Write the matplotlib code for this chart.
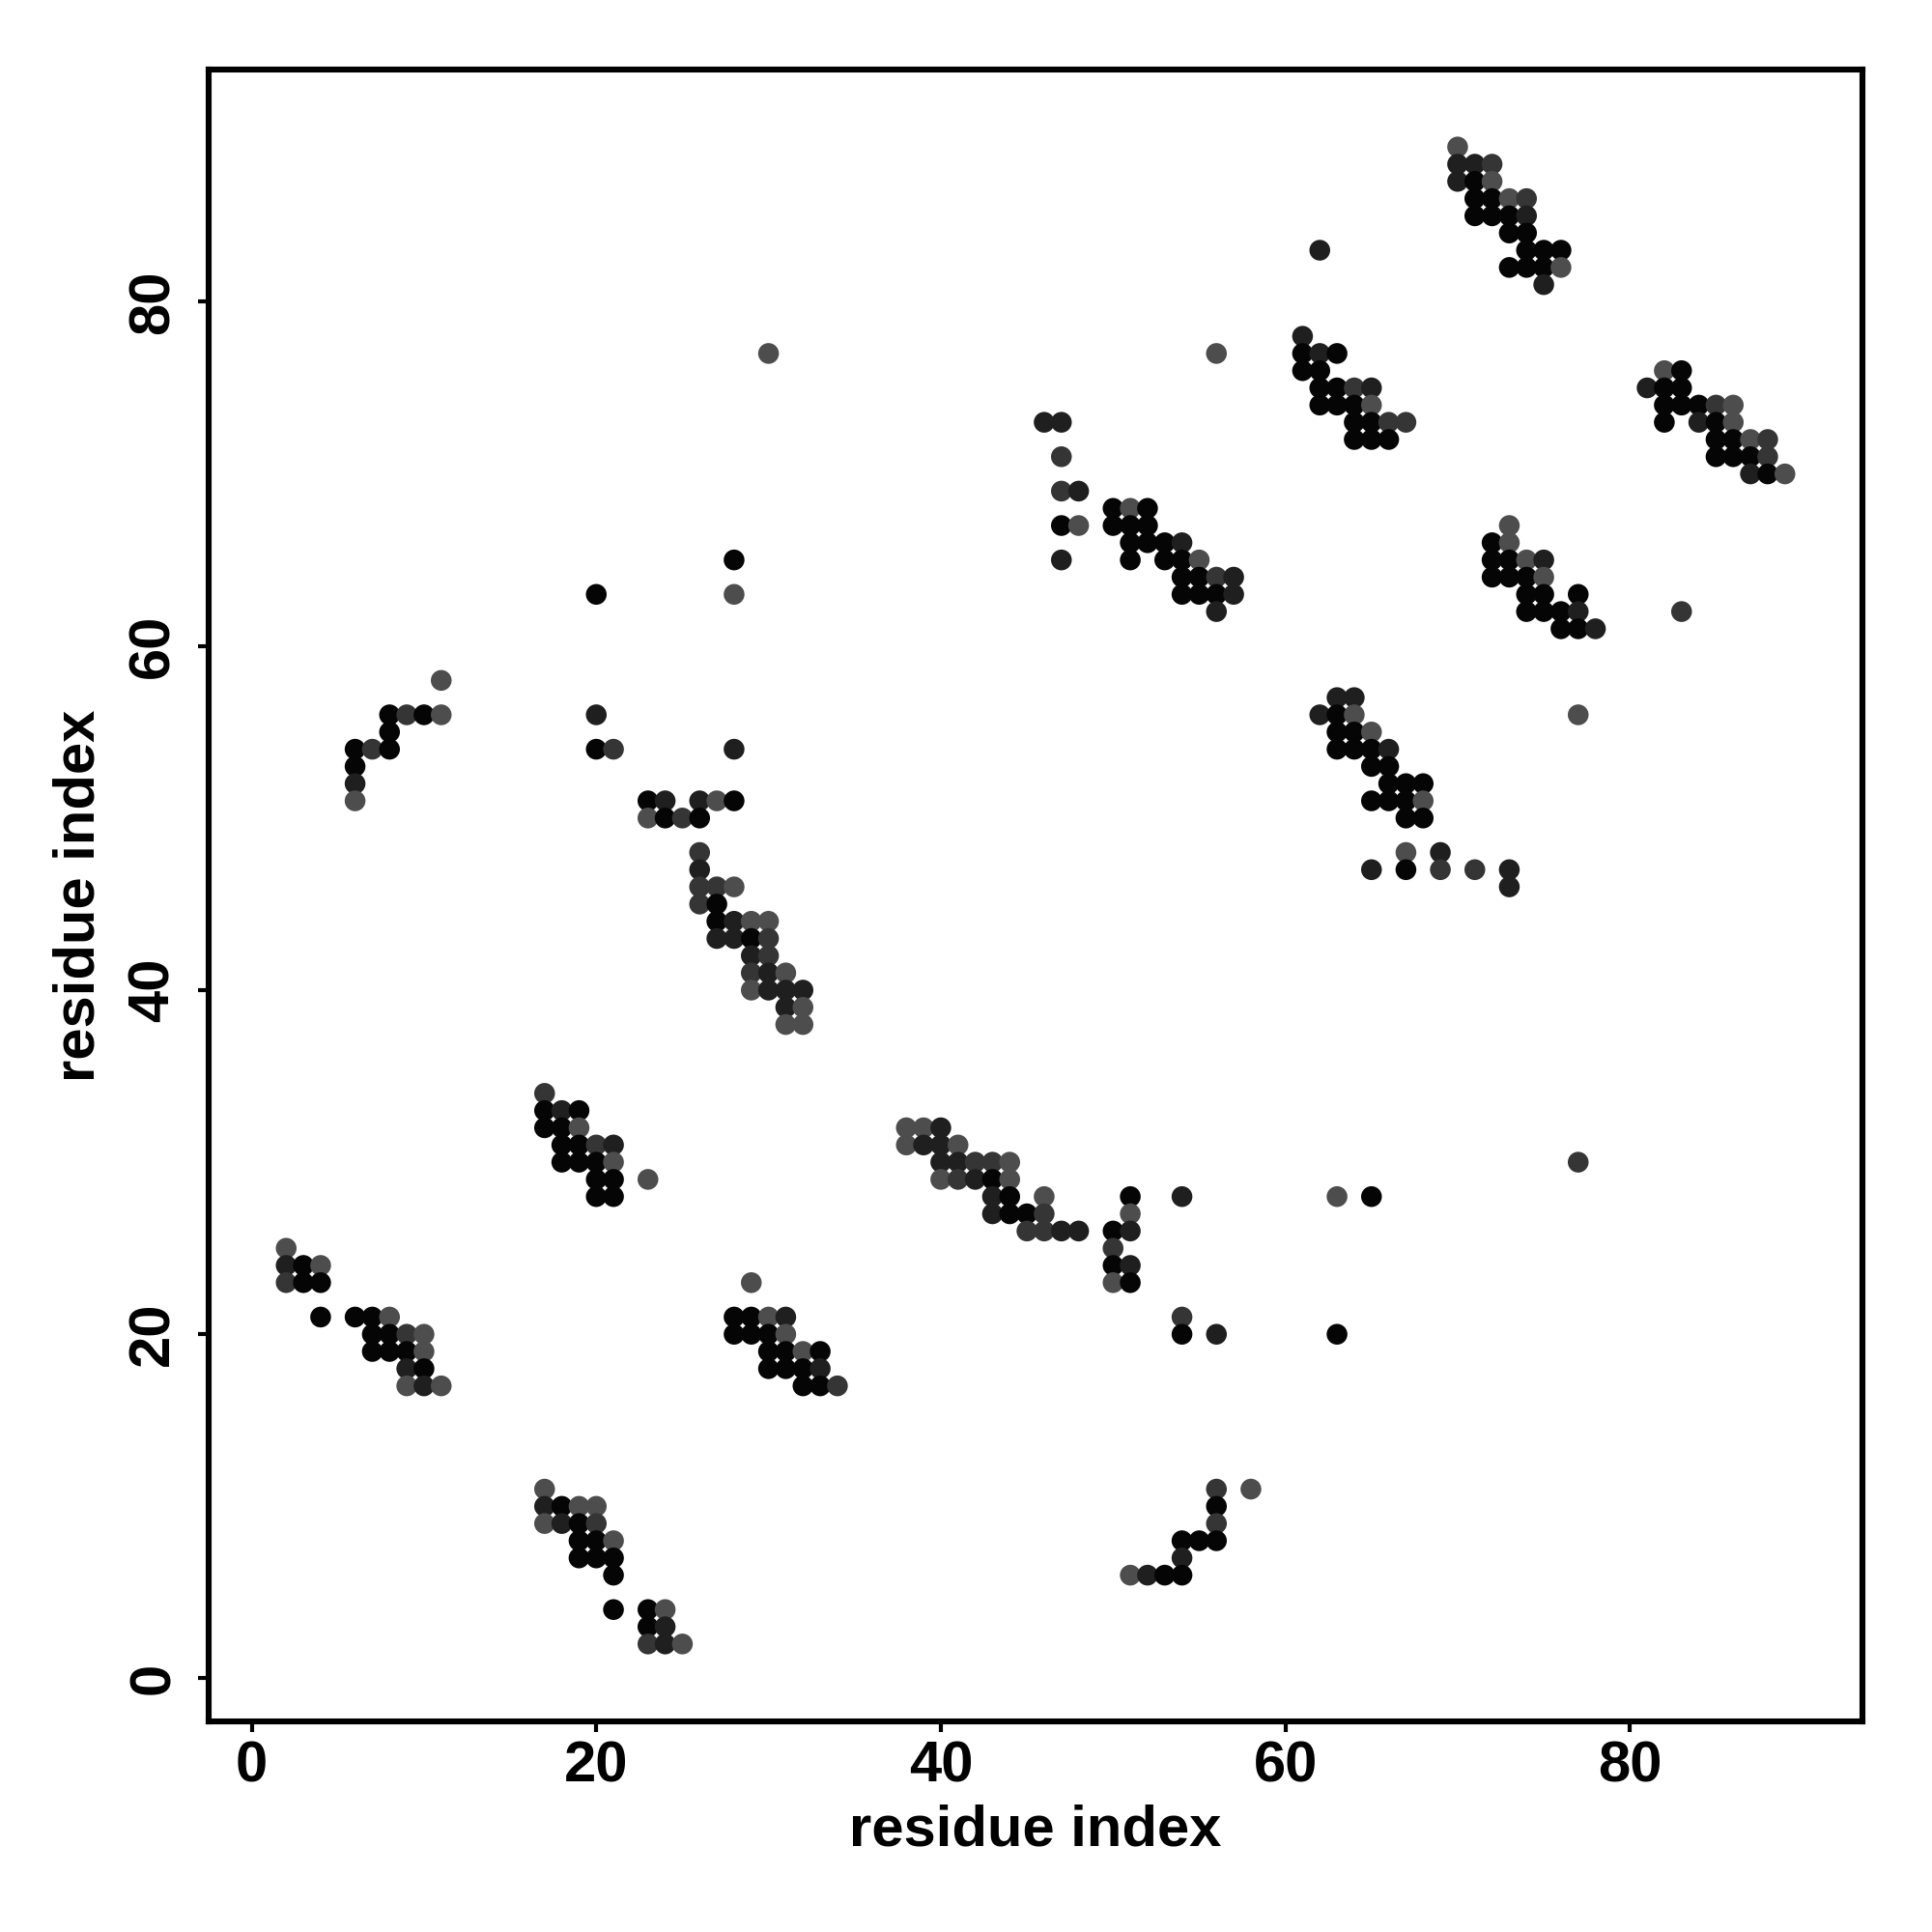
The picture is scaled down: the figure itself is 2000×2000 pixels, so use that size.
import matplotlib.pyplot as plt

plt.rcParams['font.family'] = ['Liberation Sans', 'DejaVu Sans']
plt.rcParams['font.weight'] = 'bold'

# contacts as (residue i, residue j, shade level 0=black .. 3=grey)
CLUSTER_A = [(2, 25, 3), (2, 24, 1), (3, 24, 0), (4, 24, 3), (2, 23, 2), (3, 23, 0), (4, 23, 0),
             (4, 21, 0), (6, 21, 0), (7, 21, 0), (8, 21, 3),
             (7, 20, 0), (8, 20, 0), (9, 20, 2), (10, 20, 3),
             (7, 19, 0), (8, 19, 0), (9, 19, 0), (10, 19, 3),
             (9, 18, 1), (10, 18, 0), (9, 17, 3), (10, 17, 1), (11, 17, 3)]
CLUSTER_B = [(17, 11, 3), (17, 10, 1), (18, 10, 0), (19, 10, 3), (20, 10, 3),
             (17, 9, 3), (18, 9, 1), (19, 9, 0), (20, 9, 2),
             (19, 8, 0), (20, 8, 0), (21, 8, 3), (19, 7, 0), (20, 7, 0), (21, 7, 0),
             (21, 6, 0), (21, 4, 0), (23, 4, 0), (24, 4, 3), (23, 3, 0), (24, 3, 1),
             (23, 2, 2), (24, 2, 1), (25, 2, 3)]
CLUSTER_C = [(11, 58, 3), (8, 56, 0), (9, 56, 2), (10, 56, 0), (11, 56, 3), (8, 55, 0),
             (6, 54, 0), (7, 54, 2), (8, 54, 0), (6, 53, 0), (6, 52, 1), (6, 51, 3),
             (20, 63, 0), (20, 56, 1), (20, 54, 0), (21, 54, 2)]
CLUSTER_D = [(23, 51, 0), (24, 51, 1), (26, 51, 1), (27, 51, 3), (28, 51, 0),
             (23, 50, 3), (24, 50, 0), (25, 50, 2), (26, 50, 0), (28, 54, 1),
             (26, 48, 2), (26, 47, 1), (26, 46, 2), (27, 46, 2), (28, 46, 3),
             (26, 45, 2), (27, 45, 0), (27, 44, 0), (28, 44, 1), (29, 44, 3), (30, 44, 3),
             (27, 43, 1), (28, 43, 1), (29, 43, 0), (30, 43, 2), (29, 42, 1), (30, 42, 2),
             (29, 41, 2), (30, 41, 1), (31, 41, 3),
             (29, 40, 3), (30, 40, 1), (31, 40, 1), (32, 40, 1),
             (31, 39, 1), (32, 39, 3), (31, 38, 3), (32, 38, 3),
             (28, 65, 0), (28, 63, 3), (30, 77, 3)]
CLUSTER_F = [(17, 34, 2), (17, 33, 0), (18, 33, 1), (19, 33, 0), (17, 32, 0), (18, 32, 0), (19, 32, 3),
             (18, 31, 0), (19, 31, 0), (20, 31, 2), (21, 31, 1),
             (18, 30, 0), (19, 30, 0), (20, 30, 0), (21, 30, 3),
             (20, 29, 0), (21, 29, 0), (23, 29, 3), (20, 28, 0), (21, 28, 0)]
CLUSTER_G = [(29, 23, 3), (28, 21, 0), (29, 21, 0), (30, 21, 3), (31, 21, 1),
             (28, 20, 0), (29, 20, 0), (30, 20, 0), (31, 20, 3),
             (30, 19, 0), (31, 19, 0), (32, 19, 3), (33, 19, 0),
             (30, 18, 0), (31, 18, 0), (32, 18, 0), (33, 18, 1),
             (32, 17, 0), (33, 17, 0), (34, 17, 2)]
CLUSTER_E = [(38, 32, 3), (39, 32, 3), (40, 32, 1),
             (38, 31, 3), (39, 31, 1), (40, 31, 1), (41, 31, 3),
             (40, 30, 1), (41, 30, 1), (42, 30, 2), (43, 30, 2), (44, 30, 3),
             (40, 29, 3), (41, 29, 2), (42, 29, 1), (43, 29, 0), (44, 29, 3),
             (43, 28, 1), (44, 28, 0), (46, 28, 3),
             (43, 27, 1), (44, 27, 0), (45, 27, 0), (46, 27, 2),
             (45, 26, 2), (46, 26, 2), (47, 26, 1), (48, 26, 1),
             (50, 26, 0), (50, 25, 2), (50, 24, 0), (50, 23, 3),
             (51, 28, 0), (51, 27, 3), (51, 26, 1), (51, 24, 1), (51, 23, 0),
             (54, 28, 1), (63, 28, 3), (65, 28, 0),
             (54, 21, 2), (54, 20, 0), (56, 20, 1), (63, 20, 0)]
CLUSTER_H = [(56, 11, 2), (58, 11, 3), (56, 10, 0), (56, 9, 2),
             (54, 8, 0), (55, 8, 0), (56, 8, 0), (54, 7, 1),
             (51, 6, 3), (52, 6, 1), (53, 6, 0), (54, 6, 0)]
CLUSTER_I = [(46, 73, 1), (47, 73, 1), (47, 71, 2), (47, 69, 2), (48, 69, 1),
             (47, 67, 0), (48, 67, 3), (47, 65, 1),
             (50, 68, 0), (51, 68, 3), (52, 68, 0), (50, 67, 0), (51, 67, 0), (52, 67, 0),
             (51, 66, 0), (52, 66, 0), (53, 66, 0), (54, 66, 1),
             (51, 65, 0), (53, 65, 0), (54, 65, 0), (55, 65, 3),
             (54, 64, 0), (55, 64, 0), (56, 64, 2), (57, 64, 1),
             (54, 63, 0), (55, 63, 0), (56, 63, 0), (57, 63, 1),
             (56, 62, 1), (56, 77, 3)]
CLUSTER_J = [(62, 83, 1), (61, 78, 1), (61, 77, 0), (62, 77, 1), (63, 77, 0),
             (61, 76, 0), (62, 76, 0), (62, 75, 0), (63, 75, 0), (64, 75, 2), (65, 75, 1),
             (62, 74, 0), (63, 74, 0), (64, 74, 0), (65, 74, 3),
             (64, 73, 0), (65, 73, 0), (66, 73, 2), (67, 73, 2),
             (64, 72, 0), (65, 72, 0), (66, 72, 0)]
CLUSTER_K = [(63, 57, 1), (64, 57, 1), (62, 56, 1), (63, 56, 0), (64, 56, 3),
             (63, 55, 0), (64, 55, 0), (65, 55, 3),
             (63, 54, 0), (64, 54, 0), (65, 54, 0), (66, 54, 1),
             (65, 53, 0), (66, 53, 0), (66, 52, 0), (67, 52, 0), (68, 52, 0),
             (65, 51, 0), (66, 51, 0), (67, 51, 0), (68, 51, 3),
             (67, 50, 0), (68, 50, 0), (67, 48, 3), (69, 48, 1),
             (65, 47, 1), (67, 47, 0), (69, 47, 2), (71, 47, 2), (73, 47, 1), (73, 46, 1),
             (77, 56, 3), (77, 30, 2)]
CLUSTER_L = [(70, 89, 3), (70, 88, 1), (71, 88, 1), (72, 88, 2),
             (70, 87, 1), (71, 87, 0), (72, 87, 3),
             (71, 86, 0), (72, 86, 0), (73, 86, 3), (74, 86, 2),
             (71, 85, 0), (72, 85, 0), (73, 85, 0), (74, 85, 1),
             (73, 84, 0), (74, 84, 0), (74, 83, 0), (75, 83, 0), (76, 83, 0),
             (73, 82, 0), (74, 82, 0), (75, 82, 0), (76, 82, 3), (75, 81, 1)]
CLUSTER_M = [(73, 67, 3), (72, 66, 0), (73, 66, 3),
             (72, 65, 0), (73, 65, 0), (74, 65, 3), (75, 65, 1),
             (72, 64, 0), (73, 64, 0), (74, 64, 0), (75, 64, 3),
             (74, 63, 0), (75, 63, 0), (77, 63, 0),
             (74, 62, 0), (75, 62, 0), (76, 62, 0), (77, 62, 1),
             (76, 61, 0), (77, 61, 0), (78, 61, 1), (83, 62, 2)]
CLUSTER_N = [(82, 76, 3), (83, 76, 0), (81, 75, 1), (82, 75, 0), (83, 75, 0),
             (82, 74, 0), (83, 74, 0), (84, 74, 0), (85, 74, 2), (86, 74, 3),
             (82, 73, 0), (84, 73, 1), (85, 73, 0), (86, 73, 3),
             (85, 72, 0), (86, 72, 0), (87, 72, 3), (88, 72, 2),
             (85, 71, 0), (86, 71, 0), (87, 71, 0), (88, 71, 2),
             (87, 70, 1), (88, 70, 0), (89, 70, 3)]

SHADES = ['#050505', '#1f1f1f', '#353535', '#4d4d4d']
TICKS = [0, 20, 40, 60, 80]


def main():
    contacts = (CLUSTER_A + CLUSTER_B + CLUSTER_C + CLUSTER_D + CLUSTER_F + CLUSTER_G
                + CLUSTER_E + CLUSTER_H + CLUSTER_I + CLUSTER_J + CLUSTER_K
                + CLUSTER_L + CLUSTER_M + CLUSTER_N)

    fig = plt.figure(figsize=(10, 10), dpi=200)
    ax = fig.add_axes([0.108, 0.109, 0.856, 0.855])
    ax.scatter(
        x=[c[0] for c in contacts],
        y=[c[1] for c in contacts],
        c=[SHADES[c[2]] for c in contacts],
        s=60, linewidths=0
    )
    ax.set_xlim(-2.5, 93.5)
    ax.set_ylim(-2.5, 93.5)
    ax.set_xticks(TICKS)
    ax.set_yticks(TICKS)
    ax.tick_params(direction='out', length=4, width=1.5, labelsize=21.5, colors='black')
    ax.tick_params(axis='x', pad=3)
    ax.tick_params(axis='y', pad=6.5)
    for label in ax.get_yticklabels():
        label.set_rotation(90)
        label.set_va('center')
    for spine in ax.spines.values():
        spine.set_linewidth(2.2)
    ax.set_xlabel('residue index', fontsize=21.5, fontweight='bold', labelpad=4)
    ax.set_ylabel('residue index', fontsize=21.5, fontweight='bold', labelpad=8)

    fig.savefig('out.png', dpi=200, facecolor='white')


if __name__ == '__main__':
    main()
